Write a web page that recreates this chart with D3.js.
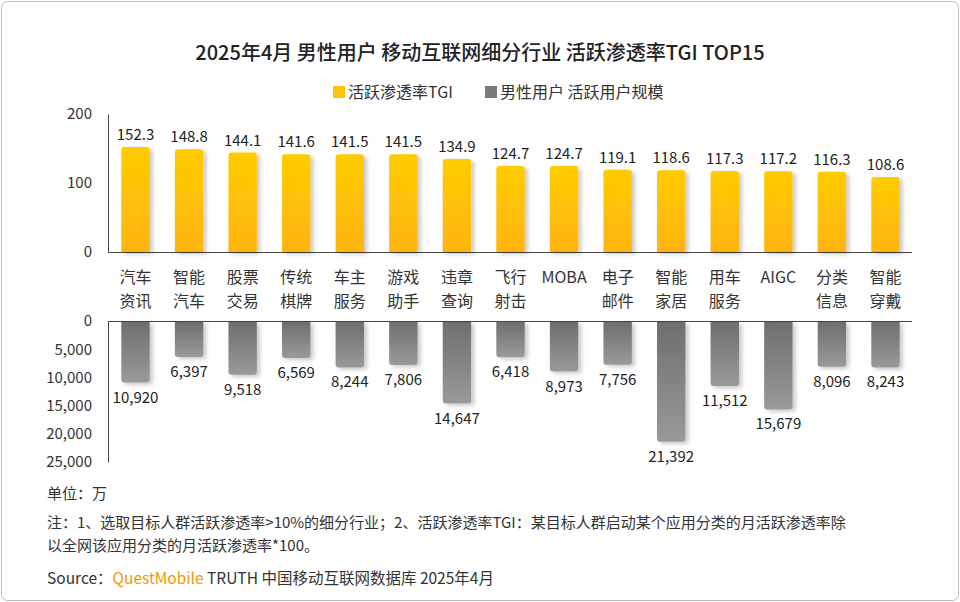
<!DOCTYPE html>
<html><head><meta charset="utf-8">
<script src="https://cdn.jsdelivr.net/npm/d3@7"></script>
<style>body{margin:0;background:#fff}text{font-family:"Noto Sans CJK SC","Noto Sans",sans-serif}</style>
</head><body><svg id="c" width="960" height="602"></svg>
<script>
var categories = ["汽车\n资讯","智能\n汽车","股票\n交易","传统\n棋牌","车主\n服务","游戏\n助手","违章\n查询","飞行\n射击","MOBA","电子\n邮件","智能\n家居","用车\n服务","AIGC","分类\n信息","智能\n穿戴"];
var tgi = [152.3,148.8,144.1,141.6,141.5,141.5,134.9,124.7,124.7,119.1,118.6,117.3,117.2,116.3,108.6];
var users = [10920,6397,9518,6569,8244,7806,14647,6418,8973,7756,21392,11512,15679,8096,8243];
var topTicks = [0,100,200];
var botTicks = [0,5000,10000,15000,20000,25000];

var svg = d3.select("#c");
var defs = svg.append("defs");
var gy = defs.append("linearGradient").attr("id","gy").attr("x1",0).attr("y1",0).attr("x2",0).attr("y2",1);
gy.append("stop").attr("offset","0%").attr("stop-color","#ffcc00");
gy.append("stop").attr("offset","100%").attr("stop-color","#ffb411");
var gg = defs.append("linearGradient").attr("id","gg").attr("x1",0).attr("y1",0).attr("x2",0).attr("y2",1);
gg.append("stop").attr("offset","0%").attr("stop-color","#6e6e6e");
gg.append("stop").attr("offset","100%").attr("stop-color","#9a9a9a");
var f = defs.append("filter").attr("id","sh").attr("x","-30%").attr("y","-30%").attr("width","170%").attr("height","170%");
f.append("feDropShadow").attr("dx",3).attr("dy",2).attr("stdDeviation",2).attr("flood-color","#000").attr("flood-opacity",0.22);

svg.append("rect").attr("x",1.5).attr("y",1.5).attr("width",957).attr("height",599).attr("rx",6)
  .attr("fill","#fff").attr("stroke","#bbb");

svg.append("text").attr("x",480).attr("y",60).attr("text-anchor","middle").attr("font-size",20).attr("font-weight",500).attr("fill","#222")
  .text("2025年4月 男性用户 移动互联网细分行业 活跃渗透率TGI TOP15");

var lg = svg.append("g").attr("font-size",16).attr("fill","#333");
lg.append("rect").attr("x",333).attr("y",86).attr("width",12).attr("height",12).attr("fill","#ffc20e");
lg.append("text").attr("x",348).attr("y",98).text("活跃渗透率TGI");
lg.append("rect").attr("x",485).attr("y",86).attr("width",12).attr("height",12).attr("fill","#7a7a7a");
lg.append("text").attr("x",500).attr("y",98).text("男性用户 活跃用户规模");

var x = d3.scaleBand().domain(d3.range(categories.length)).range([109,912]).paddingInner(0.47).paddingOuter(0.23);
var yT = d3.scaleLinear().domain([0,200]).range([252,114]);
var yB = d3.scaleLinear().domain([0,25000]).range([321,462]);

var axT = svg.append("g").attr("transform","translate(108,0)").call(d3.axisLeft(yT).tickValues(topTicks).tickSize(0).tickPadding(16));
var axB = svg.append("g").attr("transform","translate(108,0)").call(d3.axisLeft(yB).tickValues(botTicks).tickSize(0).tickPadding(16).tickFormat(d3.format(",")));
[axT,axB].forEach(function(a){a.selectAll("text").attr("font-size",15).attr("fill","#333");a.select(".domain").attr("stroke","#444");});
svg.append("line").attr("x1",108).attr("x2",912).attr("y1",252.5).attr("y2",252.5).attr("stroke","#444");
svg.append("line").attr("x1",108).attr("x2",912).attr("y1",321.5).attr("y2",321.5).attr("stroke","#444");

svg.selectAll("path.t").data(tgi).enter().append("path")
  .attr("d",function(d,i){var x0=x(i),w=x.bandwidth(),y0=yT(d),r=3;return "M"+x0+","+yT(0)+"V"+(y0+r)+"Q"+x0+","+y0+" "+(x0+r)+","+y0+"H"+(x0+w-r)+"Q"+(x0+w)+","+y0+" "+(x0+w)+","+(y0+r)+"V"+yT(0)+"Z";})
  .attr("fill","url(#gy)").attr("filter","url(#sh)");
svg.selectAll("text.t").data(tgi).enter().append("text")
  .attr("x",function(d,i){return x(i)+x.bandwidth()/2;}).attr("y",function(d){return yT(d)-7;})
  .attr("text-anchor","middle").attr("font-size",15).attr("fill","#222").text(function(d){return d.toFixed(1);});

svg.selectAll("path.b").data(users).enter().append("path")
  .attr("d",function(d,i){var x0=x(i),w=x.bandwidth(),y0=yB(d),r=3;return "M"+x0+","+(yB(0)+1)+"V"+(y0-r)+"Q"+x0+","+y0+" "+(x0+r)+","+y0+"H"+(x0+w-r)+"Q"+(x0+w)+","+y0+" "+(x0+w)+","+(y0-r)+"V"+(yB(0)+1)+"Z";})
  .attr("fill","url(#gg)").attr("filter","url(#sh)");
svg.selectAll("text.b").data(users).enter().append("text")
  .attr("x",function(d,i){return x(i)+x.bandwidth()/2;}).attr("y",function(d){return yB(d)+20;})
  .attr("text-anchor","middle").attr("font-size",15).attr("fill","#222").text(d3.format(","));

var cat = svg.selectAll("text.c").data(categories).enter().append("text")
  .attr("text-anchor","middle").attr("font-size",16).attr("fill","#333");
cat.each(function(d,i){
  var lines=d.split("\n"), t=d3.select(this), cx=x(i)+x.bandwidth()/2;
  lines.forEach(function(l,j){t.append("tspan").attr("x",cx).attr("y",283+j*24).text(l);});
});

var ft = svg.append("g").attr("font-size",15).attr("fill","#333");
ft.append("text").attr("x",47).attr("y",499).text("单位：万");
ft.append("text").attr("x",47).attr("y",528).text("注：1、选取目标人群活跃渗透率>10%的细分行业；2、活跃渗透率TGI：某目标人群启动某个应用分类的月活跃渗透率除");
ft.append("text").attr("x",47).attr("y",551).text("以全网该应用分类的月活跃渗透率*100。");
var s = ft.append("text").attr("x",47).attr("y",584).attr("font-size",15.5);
s.append("tspan").text("Source：");
s.append("tspan").attr("fill","#f39800").text("QuestMobile");
s.append("tspan").text(" TRUTH 中国移动互联网数据库 2025年4月");
</script></body></html>
